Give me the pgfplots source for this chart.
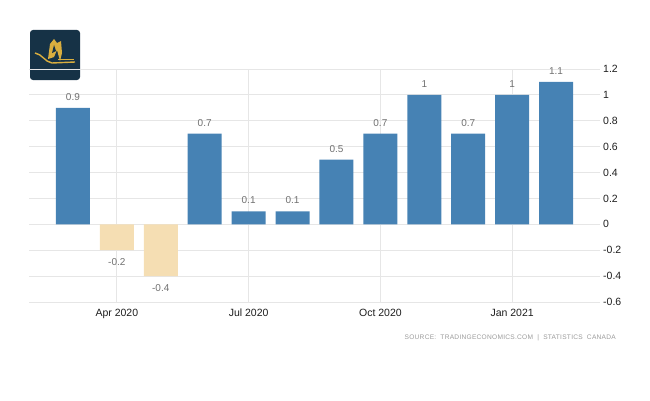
\documentclass[border=0pt]{standalone}
\usepackage{fontspec}
\setmainfont{Liberation Sans}
\newfontfamily\srcfont[LetterSpace=4]{Liberation Sans}
\usepackage{pgfplots}
\pgfplotsset{compat=1.18}
\definecolor{barblue}{HTML}{4682B4}
\definecolor{barneg}{HTML}{F5DEB3}
\definecolor{gridc}{HTML}{E6E6E6}
\definecolor{navy}{HTML}{163246}
\definecolor{gold}{HTML}{D9AE3F}
\definecolor{lblgray}{HTML}{707070}
\definecolor{tickc}{HTML}{1E1E1E}
\definecolor{srcgray}{HTML}{9A9A9A}
\begin{document}
\begin{tikzpicture}
\useasboundingbox (0pt,0pt) rectangle (650pt,400pt);
% logo
\fill[navy, rounded corners=3pt] (30pt,320pt) rectangle (80pt,370pt);
\fill[gold] (48pt,341pt) -- (50pt,356pt) -- (54pt,361pt) -- (57pt,357pt) -- (61pt,359pt) -- (62pt,347pt) -- (60pt,339pt) -- (57pt,350pt) -- (54pt,343pt) -- cycle;
\fill[navy] (52pt,347pt) -- (54pt,355pt) -- (56pt,349pt) -- cycle;
\draw[gold, line width=1.4pt] (35pt,347pt) .. controls (42pt,346pt) and (45pt,338pt) .. (52pt,337pt) -- (75pt,338pt);
\draw[gold, line width=0.6pt] (58pt,340.5pt) -- (74pt,340.5pt);
\begin{axis}[
  at={(29pt,98pt)}, anchor=south west,
  scale only axis, width=571pt, height=233pt,
  xmin=-1, xmax=12, ymin=-0.6, ymax=1.2,
  axis line style={draw=none},
  xtick={1,4,7,10},
  xticklabels={Apr 2020,Jul 2020,Oct 2020,Jan 2021},
  ytick={-0.6,-0.4,-0.2,0,0.2,0.4,0.6,0.8,1,1.2},
  yticklabel pos=right,
  major tick length=0pt,
  grid=major,
  grid style={gridc, line width=0.8pt},
  /pgf/number format/assume math mode=true,
  tick label style={font=\fontsize{10.5}{12}\selectfont, text=tickc},
  xticklabel style={anchor=base, yshift=-14pt},
  yticklabel style={anchor=west, inner xsep=0pt, xshift=3pt},
  clip=false,
]
\addplot[ybar, bar width=34pt, bar shift=0pt, fill=barblue, draw=none,
  nodes near coords,
  nodes near coords style={anchor=center, yshift=11pt, text=lblgray, font=\fontsize{10}{12}\selectfont}]
  coordinates {(0,0.9) (3,0.7) (4,0.1) (5,0.1) (6,0.5) (7,0.7) (8,1) (9,0.7) (10,1) (11,1.1)};
\addplot[ybar, bar width=34pt, bar shift=0pt, fill=barneg, draw=none,
  nodes near coords,
  nodes near coords style={anchor=center, yshift=-12pt, text=lblgray, font=\fontsize{10}{12}\selectfont}]
  coordinates {(1,-0.2) (2,-0.4)};
\end{axis}
\node[anchor=east, inner sep=0pt, text=srcgray, font=\srcfont\fontsize{6.6}{8}\selectfont] at (616pt,62pt) {SOURCE:\ \ TRADINGECONOMICS.COM\ \ |\ \ STATISTICS\ \ CANADA};
\end{tikzpicture}
\end{document}
